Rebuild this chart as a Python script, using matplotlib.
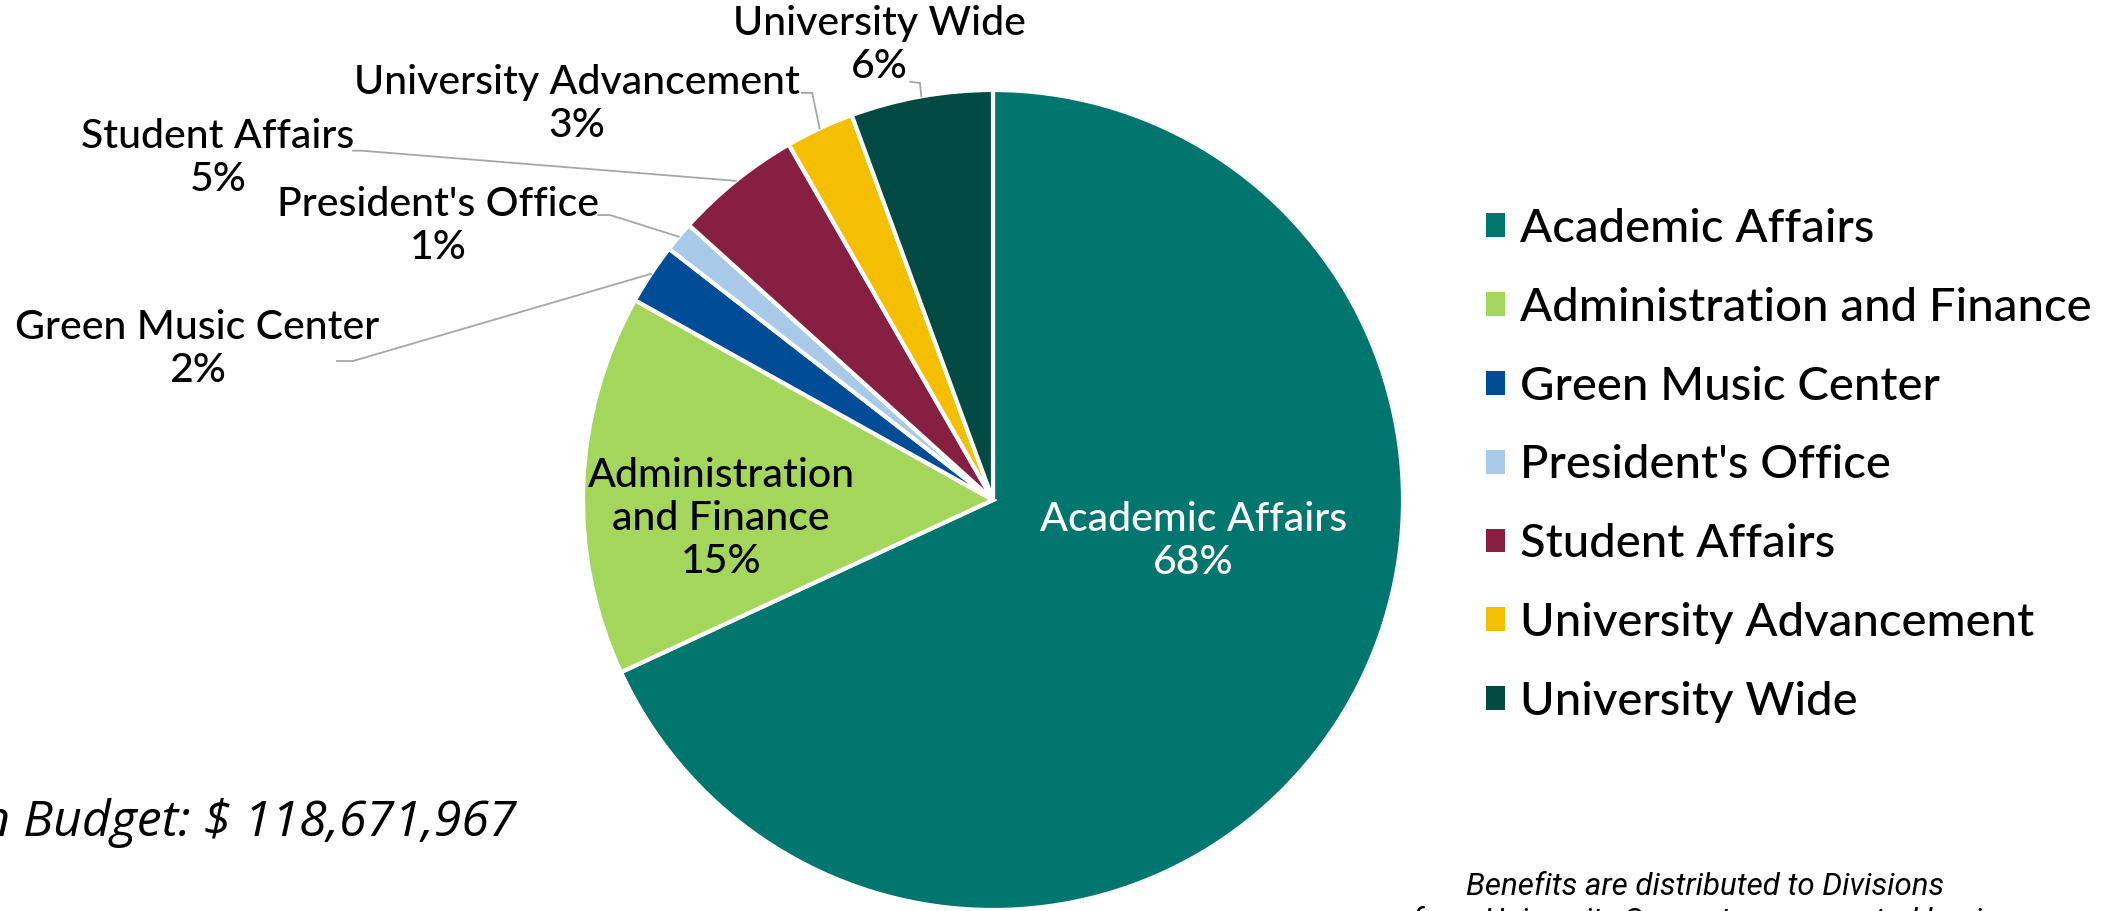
import matplotlib.pyplot as plt
from matplotlib.patches import Patch
import numpy as np

divisions = ["Academic Affairs", "Administration and Finance", "Green Music Center",
             "President's Office", "Student Affairs", "University Advancement",
             "University Wide"]
shares = [68.1, 15.0, 2.4, 1.2, 5.0, 2.7, 5.6]
colors = ["#00766F", "#A5D65C", "#004C97", "#A9C9E9", "#861F42", "#F3BF00", "#034A45"]
budget_text = "Total Division Budget: $ 118,671,967"
note_lines = ["Benefits are distributed to Divisions",
              "from University Support on a prorated basis"]

# label centres in pie units (radius 1), and the short elbow each leader starts with
label_pos = [(0.488, -0.10), (-0.663, -0.046), (-1.941, 0.368), (-1.354, 0.668),
             (-1.890, 0.834), (-1.015, 0.966), (-0.278, 1.110)]
elbows = {2: [(-1.600, 0.339), (-1.561, 0.339)],
          3: [(-0.963, 0.695), (-0.934, 0.695)],
          4: [(-1.561, 0.852), (-1.540, 0.852)],
          5: [(-0.466, 0.993), (-0.441, 0.993)],
          6: [(-0.202, 1.020), (-0.178, 1.017)]}

plt.rcParams['font.family'] = ['Lato', 'DejaVu Sans']

W, H = 2113, 911
fig = plt.figure(figsize=(W / 100, H / 100), dpi=100)
cx, cy, r = 993, 500, 410
ax = fig.add_axes([(cx - r) / W, (H - cy - r) / H, 2 * r / W, 2 * r / H])

wedges, _ = ax.pie(shares, colors=colors, startangle=90, counterclock=False,
                   wedgeprops=dict(edgecolor='white', linewidth=3))
ax.set_xlim(-1, 1)
ax.set_ylim(-1, 1)

lab_kw = dict(fontsize=29.5, ha='center', va='center', linespacing=1.2, weight='medium')
for i, (name, s, w) in enumerate(zip(divisions, shares, wedges)):
    pct = f"{round(s)}%"
    x, y = label_pos[i]
    if i == 0:
        ax.text(x, y, f"{name}\n{pct}", color='white', **lab_kw)
    elif i == 1:
        ax.text(x, y, f"Administration\nand Finance\n{pct}", color='black', **lab_kw)
    else:
        ax.text(x, y, f"{name}\n{pct}", color='black', **lab_kw)
        mid = np.deg2rad((w.theta1 + w.theta2) / 2)
        pts = elbows[i] + [(np.cos(mid), np.sin(mid))]
        ax.plot([p[0] for p in pts], [p[1] for p in pts], color='#A6A6A6', lw=1.3,
                clip_on=False, solid_joinstyle='miter')

handles = [Patch(facecolor=c, edgecolor='none') for c in colors]
fig.legend(handles, divisions, loc='upper left', bbox_to_anchor=(1486 / W, 1 - 208 / H),
           frameon=False, prop=dict(size=34, weight='medium'), handlelength=0.40,
           handleheight=0.40, handletextpad=0.32, labelspacing=0.78, borderaxespad=0,
           borderpad=0)

fig.text(516 / W, 1 - 836 / H, budget_text, fontsize=36, style='italic',
         ha='right', va='baseline', family=['Open Sans', 'DejaVu Sans'])
fig.text(1705 / W, 1 - 895 / H, note_lines[0], fontsize=22.5, style='italic',
         ha='center', va='baseline', family=['Roboto', 'DejaVu Sans'])
fig.text(1705 / W, 1 - 930 / H, note_lines[1], fontsize=22.5, style='italic',
         ha='center', va='baseline', family=['Roboto', 'DejaVu Sans'])

fig.savefig('out.png', dpi=100)
